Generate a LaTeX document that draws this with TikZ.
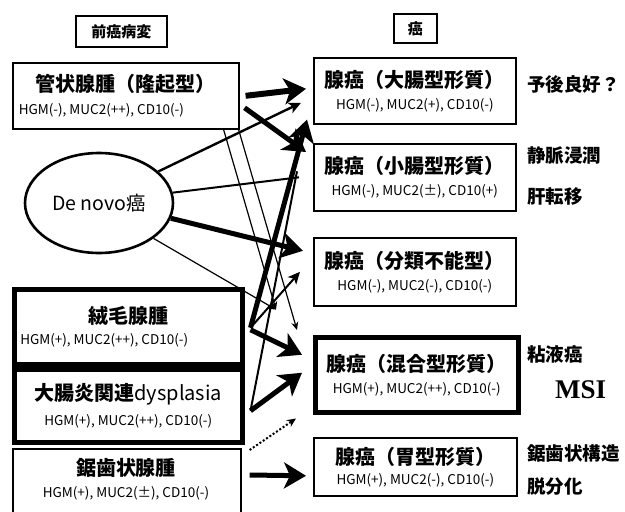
\documentclass[tikz,border=0pt]{standalone}
\usepackage{fontspec}
\setmainfont{Noto Sans CJK JP}
\newfontfamily\msifont{Liberation Serif}
\usetikzlibrary{arrows.meta,shapes.geometric,calc}
\tikzset{
  thinbox/.style={draw, line width=1.6pt, anchor=north west, align=center, inner sep=0pt},
  thickbox/.style={draw, line width=4.5pt, anchor=north west, align=center, inner sep=0pt},
  hdr/.style={draw, line width=1.6pt, anchor=north west, inner sep=0pt, font=\fontsize{15}{17}\selectfont\bfseries},
  side/.style={anchor=west, font=\fontsize{18.5}{20}\selectfont\bfseries, inner sep=0pt},
  bigarr/.style={line width=#1, -{Stealth[length=22pt,width=26pt,inset=6pt]}},
  medarr/.style={line width=#1, -{Stealth[length=12pt,width=11pt,inset=3pt]}},
  smallarr/.style={line width=#1, -{Stealth[length=8pt,width=7pt]}},
}
\newcommand{\ttl}[1]{{\fontsize{20}{22}\selectfont\bfseries #1}}
\newcommand{\sbt}[1]{{\fontsize{13.5}{15}\selectfont #1}}
\newcommand{\lsbt}[2]{\makebox[#1][l]{\sbt{#2}}}
\begin{document}
\begin{tikzpicture}[x=1pt,y=-1pt]
\useasboundingbox (0,0) rectangle (625,512);
\fill[white] (0,0) rectangle (625,512);
% headers
\node[hdr, minimum width=91, minimum height=31] (pre) at (75,15) {前癌病変};
\node[hdr, minimum width=43, minimum height=29] (gan) at (393,13) {癌};
% left boxes
\node[thinbox, minimum width=226, minimum height=66] (kan) at (12,62)
  {\ttl{管状腺腫（隆起型）}\\[8pt]\lsbt{214pt}{HGM(-), MUC2(++), CD10(-)}};
\node[ellipse, draw, line width=2.6pt, minimum width=148, minimum height=100, inner sep=0pt,
  font=\fontsize{19.5}{21}\selectfont] (denovo) at (99,203) {De novo癌};
\node[thickbox, minimum width=228, minimum height=75] (jumo) at (12,287)
  {\ttl{絨毛腺腫}\\[6pt]\lsbt{216pt}{HGM(+), MUC2(++), CD10(-)}};
\node[thickbox, minimum width=228, minimum height=73] (dys) at (12,367)
  {\ttl{大腸炎関連{\mdseries dysplasia}}\\[8pt]\sbt{HGM(+), MUC2(++), CD10(-)}};
\node[thinbox, minimum width=228, minimum height=72, anchor=north west] (kyo) at (12,448) {};
\node[inner sep=0pt, align=center] (kyot) at (126,479)
  {\ttl{鋸歯状腺腫}\\[8pt]\sbt{HGM(+), MUC2(±), CD10(-)}};
% right boxes
\node[thinbox, minimum width=202, minimum height=66] (daicho) at (313,57)
  {\ttl{腺癌（大腸型形質）}\\[8pt]\sbt{HGM(-), MUC2(+), CD10(-)}};
\node[thinbox, minimum width=202, minimum height=67] (shocho) at (313,143)
  {\ttl{腺癌（小腸型形質）}\\[8pt]\sbt{HGM(-), MUC2(±), CD10(+)}};
\node[thinbox, minimum width=202, minimum height=68] (bunrui) at (313,237)
  {\ttl{腺癌（分類不能型）}\\[8pt]\sbt{HGM(-), MUC2(-), CD10(-)}};
\node[thickbox, minimum width=203, minimum height=75] (kongo) at (313,335)
  {\ttl{腺癌（混合型形質）}\\[8pt]\sbt{HGM(+), MUC2(++), CD10(-)}};
\node[thinbox, minimum width=203, minimum height=58] (ikei) at (313,437)
  {\ttl{腺癌（胃型形質）}\\[6pt]\sbt{HGM(+), MUC2(-), CD10(-)}};
% side labels
\node[side] (yogo) at (527,84) {予後良好？};
\node[side] (jomyaku) at (527,156) {静脈浸潤};
\node[side] (kanten) at (527,197) {肝転移};
\node[side] (nenek) at (527,354) {粘液癌};
\node[anchor=west, inner sep=0pt, font=\fontsize{27}{30}\selectfont\msifont\bfseries] (msi) at (555,390) {MSI};
\node[side] (kyoz) at (527,453) {鋸歯状構造};
\node[side] (datsu) at (527,487) {脱分化};
% arrows: tubular adenoma
\draw[bigarr=6pt] ([xshift=6pt]kan.east) -- ([xshift=-7pt,yshift=2pt]daicho.west);
\draw[bigarr=5pt] ([xshift=5pt,yshift=-12pt]kan.east) -- ([xshift=-7pt,yshift=-9pt]shocho.north west);
\draw[smallarr=1.2pt] ([xshift=-16pt]kan.south east) -- ([xshift=-37pt,yshift=-3pt]bunrui.south west);
\draw[smallarr=1.2pt] ([xshift=-1pt]kan.south east) -- ([xshift=-16pt,yshift=5pt]kongo.north west);
% De novo
\draw[medarr=2.4pt] (denovo.28) -- ([xshift=-12pt,yshift=-12pt]daicho.west);
\draw[line width=2pt] (denovo.8) -- ([xshift=-14pt,yshift=0pt]shocho.west);
\draw[bigarr=5pt] (denovo.-12) -- ([xshift=-10pt,yshift=21pt]bunrui.west);
\draw[smallarr=1.2pt] (denovo.-33) -- ([xshift=-37pt,yshift=-3pt]bunrui.south west);
% villous adenoma
\draw[bigarr=5pt] ([xshift=6pt,yshift=-1pt]jumo.east) -- ([xshift=-6pt,yshift=5pt]daicho.south west);
\draw[medarr=2pt] ([xshift=6pt,yshift=-1pt]jumo.east) -- ([xshift=-13pt,yshift=0pt]bunrui.west);
\draw[bigarr=5pt] ([xshift=6pt,yshift=-3pt]jumo.east) -- ([xshift=-11pt,yshift=20pt]kongo.west);
% dysplasia
\draw[line width=2pt] ([xshift=6pt,yshift=-5pt]dys.east) -- ([xshift=-16pt,yshift=6pt]shocho.west);
\draw[bigarr=5pt] ([xshift=6pt,yshift=-5pt]dys.east) -- ([xshift=-11pt,yshift=2pt]kongo.west);
% serrated adenoma
\draw[line width=2pt, dotted, -{Stealth[length=9pt,width=8pt]}] ([xshift=8pt,yshift=-2pt]kyo.north east) -- ([xshift=-17pt,yshift=-4pt]kongo.south west);
\draw[bigarr=5pt] ([xshift=8pt,yshift=-27pt]kyo.north east) -- ([xshift=-7pt,yshift=-9pt]ikei.west);
\end{tikzpicture}
\end{document}
